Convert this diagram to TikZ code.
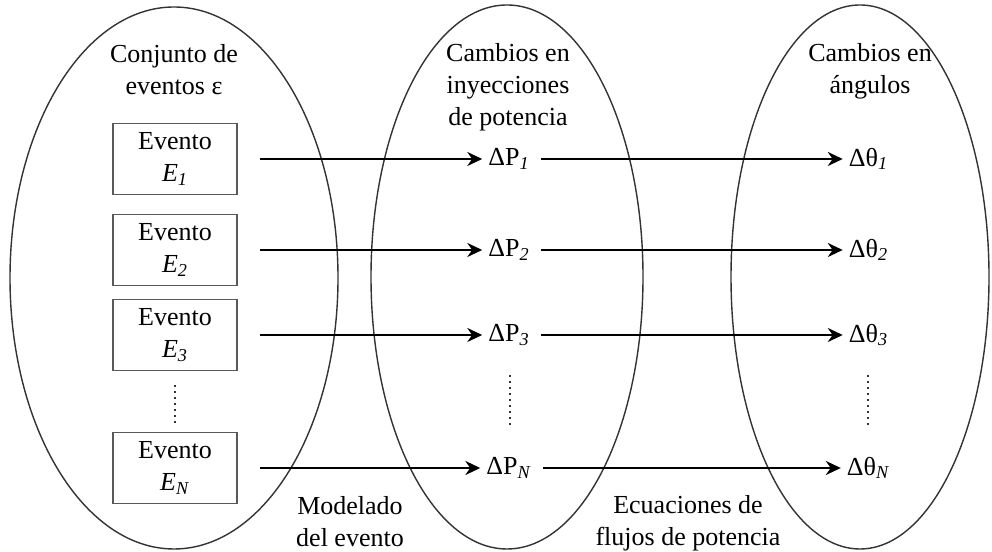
\documentclass[tikz,border=0pt]{standalone}
\usepackage{fontspec}
\setmainfont{Liberation Serif}
\usetikzlibrary{arrows.meta}

\begin{document}
\begin{tikzpicture}[
            conjunto/.style={draw=black!80, line width=0.8pt},
            evento/.style={draw=black!65, line width=0.9pt, fill=white, minimum width=2.48cm, minimum height=1.42cm, align=center, inner sep=0pt},
            flecha/.style={draw=black, line width=1.1pt, -{Stealth[length=8.5pt, width=8pt]}},
            puntos/.style={draw=black!80, line width=1.4pt, dash pattern=on 1.4pt off 2pt},
            etiqueta/.style={align=center},
            font=\fontsize{14.8}{18.2}\selectfont
        ]
            \useasboundingbox (0, 0) rectangle (19.84, 11.04);
            % ellipses
            \draw[conjunto] (3.48, 5.48) ellipse [x radius=3.28, y radius=5.42];
            \draw[conjunto] (10.14, 5.50) ellipse [x radius=2.72, y radius=5.44];
            \draw[conjunto] (17.20, 5.50) ellipse [x radius=2.58, y radius=5.44];
            % titles
            \node[etiqueta] (tconj) at (3.48, 9.64) {Conjunto de\\eventos ε};
            \node[etiqueta] (tiny) at (10.16, 9.30) {Cambios en\\inyecciones\\de potencia};
            \node[etiqueta] (tang) at (17.40, 9.62) {Cambios en\\ángulos};
            \node[etiqueta] (tmod) at (7.00, 0.60) {Modelado\\del evento};
            \node[etiqueta] (tflu) at (13.76, 0.58) {Ecuaciones de\\flujos de potencia};
            % events
            \node[evento] (e1) at (3.50, 7.86) {Evento\\\textit{E}\textsubscript{\textit{1}}};
            \node[evento] (e2) at (3.50, 6.04) {Evento\\\textit{E}\textsubscript{\textit{2}}};
            \node[evento] (e3) at (3.50, 4.34) {Evento\\\textit{E}\textsubscript{\textit{3}}};
            \node[evento] (eN) at (3.50, 1.68) {Evento\\\textit{E}\textsubscript{\textit{N}}};
            % power injections
            \node (p1) at (10.18, 7.86) {ΔP\textsubscript{\textit{1}}};
            \node (p2) at (10.18, 6.04) {ΔP\textsubscript{\textit{2}}};
            \node (p3) at (10.18, 4.34) {ΔP\textsubscript{\textit{3}}};
            \node (pN) at (10.18, 1.68) {ΔP\textsubscript{\textit{N}}};
            % angles
            \node (t1) at (17.37, 7.86) {Δθ\textsubscript{\textit{1}}};
            \node (t2) at (17.37, 6.04) {Δθ\textsubscript{\textit{2}}};
            \node (t3) at (17.37, 4.34) {Δθ\textsubscript{\textit{3}}};
            \node (tN) at (17.37, 1.68) {Δθ\textsubscript{\textit{N}}};
            % arrows
            \foreach \i in {1, 2, 3, N} {
                \draw[flecha, shorten <=0.44cm] (e\i) -- (p\i);
                \draw[flecha, shorten <=0.1cm] (p\i) -- (t\i);
            }
            % dots
            \draw[puntos] (3.50, 3.34) -- (3.50, 2.54);
            \draw[puntos] (10.20, 3.54) -- (10.20, 2.54);
            \draw[puntos] (17.36, 3.54) -- (17.36, 2.54);
        \end{tikzpicture}
\end{document}
